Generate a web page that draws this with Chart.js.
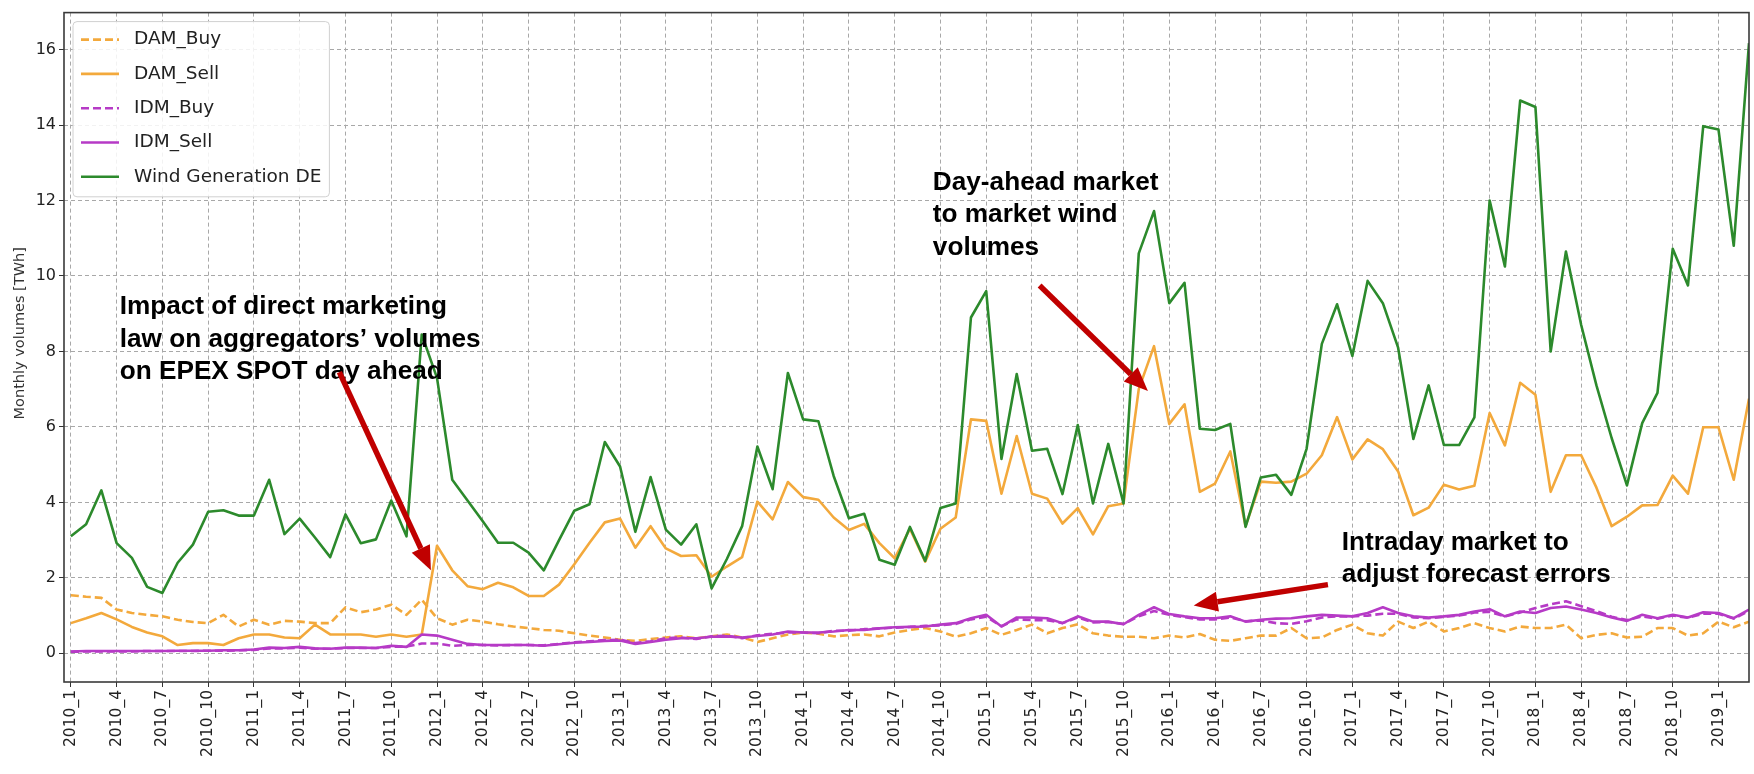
<!DOCTYPE html>
<html>
<head>
<meta charset="utf-8">
<script src="https://cdn.jsdelivr.net/npm/chart.js@4/dist/chart.umd.min.js"></script>
<style>
  html, body { margin: 0; padding: 0; background: #ffffff; }
  #wrap { width: 1754px; height: 774px; position: relative; }
</style>
</head>
<body>
<div id="wrap"><canvas id="c" width="1754" height="774"></canvas></div>
<script>
// Monthly categories, January 2010 to March 2019
const months = [
  '2010_1','2010_2','2010_3','2010_4','2010_5','2010_6','2010_7','2010_8','2010_9','2010_10','2010_11','2010_12',
  '2011_1','2011_2','2011_3','2011_4','2011_5','2011_6','2011_7','2011_8','2011_9','2011_10','2011_11','2011_12',
  '2012_1','2012_2','2012_3','2012_4','2012_5','2012_6','2012_7','2012_8','2012_9','2012_10','2012_11','2012_12',
  '2013_1','2013_2','2013_3','2013_4','2013_5','2013_6','2013_7','2013_8','2013_9','2013_10','2013_11','2013_12',
  '2014_1','2014_2','2014_3','2014_4','2014_5','2014_6','2014_7','2014_8','2014_9','2014_10','2014_11','2014_12',
  '2015_1','2015_2','2015_3','2015_4','2015_5','2015_6','2015_7','2015_8','2015_9','2015_10','2015_11','2015_12',
  '2016_1','2016_2','2016_3','2016_4','2016_5','2016_6','2016_7','2016_8','2016_9','2016_10','2016_11','2016_12',
  '2017_1','2017_2','2017_3','2017_4','2017_5','2017_6','2017_7','2017_8','2017_9','2017_10','2017_11','2017_12',
  '2018_1','2018_2','2018_3','2018_4','2018_5','2018_6','2018_7','2018_8','2018_9','2018_10','2018_11','2018_12',
  '2019_1','2019_2','2019_3'
];

// Monthly volumes in TWh
const damBuy = [
  1.54, 1.50, 1.47, 1.16, 1.07, 1.02, 0.98, 0.89, 0.83, 0.80, 1.02, 0.71,
  0.89, 0.76, 0.86, 0.84, 0.80, 0.80, 1.22, 1.09, 1.16, 1.29, 1.02, 1.42,
  0.93, 0.76, 0.89, 0.84, 0.77, 0.71, 0.67, 0.62, 0.60, 0.53, 0.47, 0.42,
  0.36, 0.33, 0.38, 0.42, 0.45, 0.40, 0.45, 0.50, 0.42, 0.30, 0.40, 0.50,
  0.55, 0.52, 0.45, 0.48, 0.50, 0.45, 0.55, 0.62, 0.67, 0.58, 0.44, 0.53,
  0.67, 0.49, 0.62, 0.76, 0.53, 0.67, 0.77, 0.53, 0.47, 0.44, 0.44, 0.40,
  0.47, 0.42, 0.51, 0.36, 0.33, 0.40, 0.47, 0.47, 0.67, 0.40, 0.42, 0.62,
  0.76, 0.53, 0.47, 0.84, 0.67, 0.84, 0.58, 0.67, 0.80, 0.67, 0.58, 0.71,
  0.67, 0.67, 0.76, 0.40, 0.49, 0.53, 0.42, 0.44, 0.67, 0.67, 0.47, 0.53,
  0.84, 0.69, 0.84
];
const damSell = [
  0.80, 0.93, 1.07, 0.90, 0.70, 0.55, 0.45, 0.22, 0.27, 0.27, 0.22, 0.40,
  0.50, 0.50, 0.42, 0.40, 0.76, 0.50, 0.50, 0.50, 0.44, 0.50, 0.44, 0.50,
  2.85, 2.20, 1.78, 1.70, 1.87, 1.75, 1.52, 1.52, 1.82, 2.36, 2.93, 3.47,
  3.57, 2.80, 3.37, 2.78, 2.58, 2.60, 2.03, 2.30, 2.55, 4.02, 3.55, 4.54,
  4.14, 4.07, 3.60, 3.27, 3.43, 2.92, 2.52, 3.30, 2.43, 3.30, 3.60, 6.20,
  6.16, 4.23, 5.76, 4.23, 4.10, 3.44, 3.85, 3.15, 3.90, 3.97, 7.00, 8.14,
  6.08, 6.60, 4.28, 4.50, 5.35, 3.37, 4.55, 4.52, 4.55, 4.76, 5.25, 6.26,
  5.14, 5.67, 5.41, 4.82, 3.66, 3.86, 4.47, 4.34, 4.44, 6.37, 5.51, 7.17,
  6.85, 4.28, 5.25, 5.25, 4.39, 3.37, 3.62, 3.92, 3.93, 4.71, 4.23, 5.99,
  5.99, 4.60, 6.75
];
const idmBuy = [
  0.04, 0.05, 0.05, 0.05, 0.05, 0.06, 0.06, 0.06, 0.06, 0.07, 0.07, 0.08,
  0.09, 0.13, 0.13, 0.15, 0.12, 0.12, 0.14, 0.14, 0.14, 0.17, 0.18, 0.26,
  0.26, 0.20, 0.22, 0.22, 0.21, 0.22, 0.22, 0.21, 0.25, 0.29, 0.32, 0.35,
  0.36, 0.27, 0.32, 0.40, 0.42, 0.38, 0.45, 0.47, 0.40, 0.48, 0.52, 0.55,
  0.55, 0.53, 0.60, 0.60, 0.64, 0.66, 0.68, 0.70, 0.73, 0.74, 0.78, 0.90,
  0.97, 0.72, 0.90, 0.88, 0.88, 0.80, 0.95, 0.82, 0.83, 0.78, 0.98, 1.12,
  1.02, 0.96, 0.90, 0.90, 0.95, 0.85, 0.87, 0.80, 0.78, 0.85, 0.95, 0.98,
  0.98, 1.00, 1.05, 1.05, 0.95, 0.93, 0.97, 1.00, 1.08, 1.10, 0.98, 1.08,
  1.20, 1.30, 1.38, 1.25, 1.12, 0.97, 0.88, 0.98, 0.92, 1.00, 0.94, 1.05,
  1.05, 0.92, 1.12
];
const idmSell = [
  0.05, 0.06, 0.06, 0.06, 0.06, 0.06, 0.06, 0.07, 0.07, 0.07, 0.08, 0.08,
  0.10, 0.15, 0.14, 0.17, 0.13, 0.12, 0.15, 0.15, 0.14, 0.20, 0.17, 0.50,
  0.47, 0.36, 0.25, 0.22, 0.22, 0.22, 0.22, 0.20, 0.24, 0.28, 0.30, 0.33,
  0.34, 0.25, 0.30, 0.36, 0.40, 0.40, 0.44, 0.45, 0.42, 0.46, 0.50, 0.58,
  0.55, 0.55, 0.58, 0.62, 0.62, 0.66, 0.69, 0.70, 0.71, 0.76, 0.80, 0.93,
  1.02, 0.71, 0.95, 0.95, 0.93, 0.80, 0.98, 0.84, 0.84, 0.77, 1.02, 1.22,
  1.04, 0.98, 0.93, 0.93, 0.98, 0.84, 0.89, 0.92, 0.93, 0.98, 1.02, 1.00,
  0.98, 1.07, 1.22, 1.07, 0.98, 0.95, 0.98, 1.02, 1.11, 1.17, 0.98, 1.11,
  1.07, 1.20, 1.24, 1.16, 1.07, 0.95, 0.86, 1.02, 0.93, 1.02, 0.95, 1.09,
  1.07, 0.93, 1.16
];
const windGen = [
  3.10, 3.42, 4.32, 2.92, 2.53, 1.76, 1.60, 2.40, 2.88, 3.75, 3.79, 3.65,
  3.65, 4.60, 3.16, 3.57, 3.07, 2.55, 3.68, 2.92, 3.02, 4.05, 3.10, 8.45,
  7.30, 4.60, 4.05, 3.50, 2.93, 2.93, 2.67, 2.20, 3.00, 3.78, 3.95, 5.60,
  4.95, 3.22, 4.67, 3.28, 2.88, 3.42, 1.72, 2.50, 3.37, 5.48, 4.35, 7.43,
  6.20, 6.15, 4.70, 3.58, 3.70, 2.48, 2.35, 3.35, 2.45, 3.85, 3.97, 8.90,
  9.60, 5.15, 7.40, 5.37, 5.42, 4.22, 6.05, 3.97, 5.55, 3.97, 10.60, 11.72,
  9.28, 9.82, 5.95, 5.92, 6.08, 3.35, 4.66, 4.73, 4.20, 5.42, 8.20, 9.25,
  7.88, 9.87, 9.28, 8.10, 5.68, 7.10, 5.52, 5.52, 6.25, 12.00, 10.25, 14.65,
  14.48, 8.00, 10.65, 8.70, 7.10, 5.70, 4.45, 6.10, 6.90, 10.72, 9.75, 13.97,
  13.88, 10.80, 16.17
];

// Axis ticks: every third month on x, every 2 TWh on y
const xTickStep = 3;
const yTicks = [0, 2, 4, 6, 8, 10, 12, 14, 16];
const yTitle = 'Monthly volumes [TWh]';

const ORANGE = '#f3a93c';
const PURPLE = '#b63ac6';
const GREEN  = '#2c8a2c';

const toPoints = arr => arr.map((v, i) => ({ x: i, y: v }));

const seriesDefs = [
  { label: 'DAM_Buy',  data: damBuy,  color: ORANGE, dash: [8, 4] },
  { label: 'DAM_Sell', data: damSell, color: ORANGE, dash: [] },
  { label: 'IDM_Buy',  data: idmBuy,  color: PURPLE, dash: [8, 4] },
  { label: 'IDM_Sell', data: idmSell, color: PURPLE, dash: [] },
  { label: 'Wind Generation DE', data: windGen, color: GREEN, dash: [] }
];

const datasets = seriesDefs.map((s, k) => ({
  label: s.label,
  data: toPoints(s.data),
  borderColor: s.color,
  backgroundColor: s.color,
  borderWidth: 2.6,
  borderDash: s.dash,
  borderJoinStyle: 'round',
  pointRadius: 0,
  tension: 0,
  fill: false,
  order: seriesDefs.length - k   // later series are drawn on top
}));

// Text callouts with arrows, placed in data coordinates (month index, TWh)
const callouts = [
  { lines: ['Impact of direct marketing', 'law on aggregators\u2019 volumes', 'on EPEX SPOT day ahead'],
    at: [3.2, 8.98], arrow: [[17.6, 7.45], [23.6, 2.2]] },
  { lines: ['Day-ahead market', 'to market wind', 'volumes'],
    at: [56.5, 12.28], arrow: [[63.5, 9.75], [70.6, 6.95]] },
  { lines: ['Intraday market to', 'adjust forecast errors'],
    at: [83.3, 2.75], arrow: [[82.4, 1.82], [73.6, 1.27]] }
];

const PLOT = { left: 64, right: 1749, top: 9, bottom: 682 };

const framePlugin = {
  id: 'frame',
  afterDatasetsDraw(chart) {
    const { ctx, chartArea: a } = chart;
    ctx.save();
    ctx.strokeStyle = '#3a3a3a';
    ctx.lineWidth = 1.6;
    ctx.setLineDash([]);
    ctx.strokeRect(a.left, a.top, a.right - a.left, a.bottom - a.top);
    // axis title beside the y ticks
    ctx.fillStyle = '#333333';
    ctx.font = '14.5px "DejaVu Sans"';
    ctx.textAlign = 'center';
    ctx.textBaseline = 'middle';
    ctx.translate(20, (a.top + a.bottom) / 2 - 14);
    ctx.rotate(-Math.PI / 2);
    ctx.fillText(yTitle, 0, 0);
    ctx.restore();
  }
};

const legendPlugin = {
  id: 'boxLegend',
  afterDraw(chart) {
    const { ctx, chartArea: a } = chart;
    const fs = 18.5;
    const x0 = a.left + 9, y0 = a.top + 9;
    const rowH = 34.3;
    const n = chart.data.datasets.length;
    ctx.save();
    ctx.font = fs + 'px "DejaVu Sans"';
    let tw = 0;
    chart.data.datasets.forEach(d => { tw = Math.max(tw, ctx.measureText(d.label).width); });
    const w = 8 + 38 + 15 + tw + 8;
    const h = 2 * 19 + rowH * (n - 1);
    ctx.fillStyle = 'rgba(255,255,255,0.85)';
    ctx.strokeStyle = '#d0d0d0';
    ctx.lineWidth = 1;
    ctx.beginPath();
    ctx.roundRect(x0, y0, w, h, 4);
    ctx.fill();
    ctx.stroke();
    chart.data.datasets.forEach((d, k) => {
      const cy = y0 + 18 + rowH * k;
      ctx.strokeStyle = d.borderColor;
      ctx.lineWidth = 2.6;
      ctx.setLineDash(d.borderDash || []);
      ctx.beginPath();
      ctx.moveTo(x0 + 8, cy);
      ctx.lineTo(x0 + 46, cy);
      ctx.stroke();
      ctx.setLineDash([]);
      ctx.fillStyle = '#222222';
      ctx.textBaseline = 'middle';
      ctx.textAlign = 'left';
      ctx.fillText(d.label, x0 + 61, cy);
    });
    ctx.restore();
  }
};

const calloutPlugin = {
  id: 'callouts',
  afterDraw(chart) {
    const { ctx } = chart;
    const xs = chart.scales.x, ys = chart.scales.y;
    const px = p => [xs.getPixelForValue(p[0]), ys.getPixelForValue(p[1])];
    ctx.save();
    ctx.font = 'bold 26.2px "Liberation Sans", Arial, sans-serif';
    ctx.textAlign = 'left';
    ctx.textBaseline = 'alphabetic';
    callouts.forEach(c => {
      const [tx, ty] = px(c.at);
      ctx.fillStyle = '#000000';
      c.lines.forEach((ln, k) => ctx.fillText(ln, tx, ty + k * 32.5));
      const [x1, y1] = px(c.arrow[0]);
      const [x2, y2] = px(c.arrow[1]);
      const ang = Math.atan2(y2 - y1, x2 - x1);
      const headL = 24, headW = 10;
      const bx = x2 - headL * Math.cos(ang), by = y2 - headL * Math.sin(ang);
      ctx.strokeStyle = '#c00000';
      ctx.fillStyle = '#c00000';
      ctx.lineWidth = 5.5;
      ctx.lineCap = 'butt';
      ctx.beginPath();
      ctx.moveTo(x1, y1);
      ctx.lineTo(bx, by);
      ctx.stroke();
      ctx.beginPath();
      ctx.moveTo(x2, y2);
      ctx.lineTo(bx + headW * Math.sin(ang), by - headW * Math.cos(ang));
      ctx.lineTo(bx - headW * Math.sin(ang), by + headW * Math.cos(ang));
      ctx.closePath();
      ctx.fill();
    });
    ctx.restore();
  }
};

new Chart(document.getElementById('c'), {
  type: 'line',
  data: { datasets },
  options: {
    responsive: false,
    animation: false,
    devicePixelRatio: 1,
    layout: { padding: { top: PLOT.top, right: 1754 - PLOT.right, left: 0, bottom: 0 } },
    plugins: { legend: { display: false }, tooltip: { enabled: false } },
    scales: {
      x: {
        type: 'linear',
        min: -0.45,
        max: months.length - 1,
        afterFit(s) { s.height = 774 - PLOT.bottom; },
        afterBuildTicks(s) {
          s.ticks = months.map((m, i) => i).filter(i => i % xTickStep === 0).map(v => ({ value: v }));
        },
        ticks: {
          autoSkip: false,
          minRotation: 90,
          maxRotation: 90,
          padding: 3,
          color: '#222222',
          font: { family: '"DejaVu Sans"', size: 15.5 },
          callback: v => months[v]
        },
        grid: { color: '#a8a8a8', lineWidth: 1, drawTicks: true, tickLength: 5, tickColor: '#333333' },
        border: { display: false, dash: [4, 3] }
      },
      y: {
        type: 'linear',
        min: -0.76,
        max: 16.98,
        afterFit(s) { s.width = PLOT.left; },
        afterBuildTicks(s) { s.ticks = yTicks.map(v => ({ value: v })); },
        ticks: { padding: 3, color: '#222222', font: { family: '"DejaVu Sans"', size: 16 } },
        grid: { color: '#a8a8a8', lineWidth: 1, drawTicks: true, tickLength: 5, tickColor: '#333333' },
        border: { display: false, dash: [4, 3] }
      }
    }
  },
  plugins: [framePlugin, legendPlugin, calloutPlugin]
});
</script>
</body>
</html>
